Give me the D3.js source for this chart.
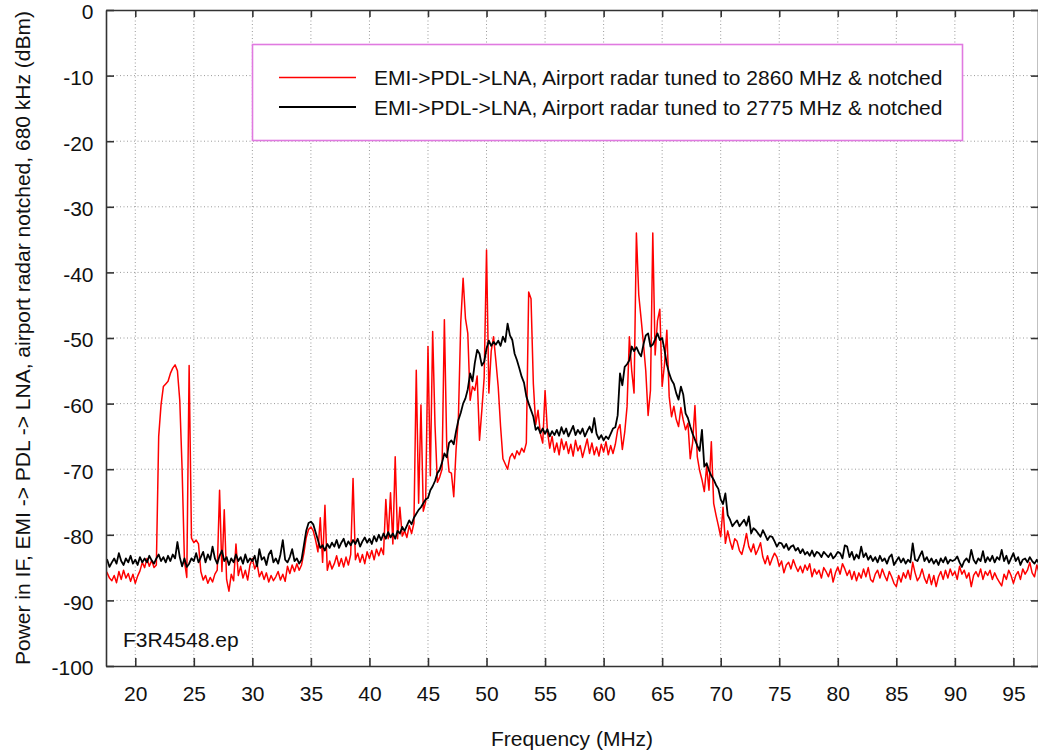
<!DOCTYPE html>
<html>
<head>
<meta charset="utf-8">
<script src="https://cdn.jsdelivr.net/npm/d3@7"></script>
<style>
  html, body { margin: 0; padding: 0; background: #fff; }
  svg { display: block; font-family: "Liberation Sans", Arial, Helvetica, sans-serif; }
</style>
</head>
<body>
<svg id="chart" width="1038" height="754"></svg>
<script>
// Sweep grid of the IF spectrum (MHz)
const freqStartMHz = 17.4;
const freqStepMHz = 0.2;

// Radar tuned to 2860 MHz & notched (dBm), one row per MHz
const red2860 = [
  -85.2, -85.8, -86.6,
  -87.0, -86.2, -87.3, -85.6, -86.8,
  -85.4, -86.6, -85.9, -87.1, -86.0,
  -87.4, -86.3, -85.5, -84.2, -85.0,
  -83.6, -84.8, -83.9, -85.0, -84.6,
  -65.0, -60.2, -57.4, -57.0, -56.6,
  -55.4, -54.6, -54.1, -55.0, -59.5,
  -70.0, -84.0, -86.5, -54.2, -80.5,
  -81.2, -80.8, -81.4, -85.6, -86.9,
  -86.2, -87.4, -86.5, -87.2, -86.0,
  -85.4, -73.2, -85.6, -76.2, -86.8,
  -88.6, -86.0, -87.0, -81.4, -86.2,
  -84.8, -86.6, -85.4, -86.9, -84.6,
  -83.6, -85.2, -84.4, -86.4, -85.6,
  -86.8, -85.8, -87.2, -86.2, -87.0,
  -86.4, -85.6, -86.9, -86.0, -87.1,
  -84.8, -85.9, -84.6, -85.6, -84.4,
  -85.4, -84.6, -82.8, -80.4, -79.2,
  -78.8, -79.4, -80.8, -82.6, -77.4,
  -84.2, -75.5, -85.4, -84.0, -85.2,
  -84.4, -83.2, -84.8, -83.6, -84.9,
  -83.4, -84.6, -83.0, -71.4, -83.8,
  -82.8, -84.2, -83.0, -84.4, -82.6,
  -83.6, -82.4, -83.8, -82.2, -83.2,
  -82.0, -83.0, -74.6, -80.6, -73.6,
  -81.4, -68.1, -80.6, -75.8, -80.2,
  -79.4, -80.4, -78.6, -79.8, -78.2,
  -54.9, -75.2, -60.2, -76.4, -75.0,
  -51.3, -71.0, -49.0, -63.3, -72.0,
  -71.2, -70.0, -47.2, -66.4, -70.4,
  -70.6, -74.2, -67.0, -62.0, -47.6,
  -40.9, -47.0, -49.3, -59.5, -57.4,
  -58.0, -55.8, -65.6, -61.0, -56.0,
  -36.6, -58.4, -52.0, -49.8, -53.5,
  -57.5, -63.5, -68.4, -69.2, -70.0,
  -68.2, -67.6, -68.4, -67.2, -67.8,
  -66.8, -67.4, -66.0, -43.0, -44.0,
  -57.0, -63.2, -61.0, -64.6, -66.0,
  -58.0, -64.2, -66.8, -65.0, -67.4,
  -66.0, -67.8, -65.4, -67.0, -65.8,
  -67.6, -66.2, -68.0, -65.6, -67.2,
  -66.4, -68.2, -66.8, -65.4, -67.6,
  -66.0, -67.8, -66.6, -68.0, -66.2,
  -67.4, -65.8, -67.8, -66.4, -67.6,
  -66.2, -64.0, -63.2, -67.0, -64.4,
  -60.5, -49.8, -55.0, -58.4, -34.0,
  -43.4, -47.0, -50.8, -55.0, -61.8,
  -58.0, -34.0, -52.6, -47.4, -45.6,
  -57.4, -54.0, -48.8, -58.9, -62.0,
  -60.4, -62.4, -63.5, -60.6, -62.5,
  -64.0, -63.0, -68.4, -66.0, -60.3,
  -68.1, -70.2, -71.6, -73.4, -69.6,
  -73.2, -65.8, -75.2, -77.0, -78.6,
  -80.3, -75.8, -81.3, -79.4, -81.0,
  -82.2, -80.6, -81.0, -82.4, -83.0,
  -81.6, -79.8, -81.8, -82.6, -81.4,
  -83.0, -82.2, -81.2, -83.4, -84.4,
  -83.2, -84.6, -83.6, -82.8, -83.4,
  -84.8, -84.0, -85.8, -84.6, -84.2,
  -85.2, -83.8, -84.8, -85.6, -84.8,
  -85.8, -84.6, -85.4, -84.4, -86.4,
  -85.2, -86.0, -85.4, -86.6, -85.0,
  -85.6, -86.4, -85.2, -87.2, -85.8,
  -84.9, -86.0, -84.4, -85.2, -86.2,
  -85.4, -86.8, -85.6, -87.0, -85.8,
  -86.6, -85.2, -86.4, -85.0, -86.8,
  -87.2, -86.0, -85.4, -86.6, -85.2,
  -86.2, -87.0, -85.6, -86.4, -87.4,
  -87.9, -86.2, -87.2, -85.8, -86.6,
  -85.4, -86.8, -84.2, -85.8, -87.0,
  -86.4, -85.2, -86.6, -87.4, -86.0,
  -87.6, -86.2, -87.9, -86.4, -85.6,
  -86.8, -85.4, -86.6, -85.2, -86.2,
  -85.6, -86.8, -84.8, -86.0, -85.4,
  -86.6, -85.8, -87.9, -86.2, -85.6,
  -86.4, -85.2, -86.8, -85.6, -86.2,
  -85.4, -86.8, -85.8, -86.6, -87.2,
  -87.8, -86.0, -86.8, -85.4, -86.2,
  -87.4, -86.2, -85.6, -86.8, -85.2,
  -86.0, -85.4, -84.2, -85.8, -86.4,
  -84.6, -85.8
];

// Radar tuned to 2775 MHz & notched (dBm), one row per MHz
const black2775 = [
  -84.6, -83.8, -84.9,
  -84.2, -83.6, -84.4, -82.8, -84.0,
  -84.6, -83.6, -84.2, -83.2, -84.4,
  -83.8, -84.6, -83.4, -84.2, -83.6,
  -84.2, -83.2, -83.9, -84.4, -83.6,
  -83.0, -84.0, -83.4, -84.2, -83.2,
  -84.0, -83.0, -83.6, -81.1, -83.4,
  -84.8, -83.6, -84.9, -84.4, -83.6,
  -84.0, -82.8, -84.2, -83.4, -82.6,
  -84.2, -83.0, -83.8, -81.8, -83.6,
  -84.4, -83.2, -82.4, -84.0, -83.4,
  -84.6, -83.6, -84.2, -83.0, -84.0,
  -83.4, -84.4, -83.0, -84.2, -83.6,
  -84.0, -83.2, -84.8, -82.2, -83.8,
  -83.4, -84.6, -83.0, -82.4, -84.2,
  -83.6, -84.4, -83.0, -80.8, -83.8,
  -84.2, -83.4, -82.2, -84.0, -83.6,
  -84.4, -83.8, -81.6, -79.4, -78.2,
  -78.0, -78.4, -79.6, -80.8, -82.0,
  -81.6, -82.4, -81.4, -82.0, -81.2,
  -81.8, -80.8, -82.0, -81.2, -80.6,
  -81.8, -81.0, -81.6, -80.8, -81.4,
  -80.6, -81.8, -81.0, -80.4, -81.2,
  -80.6, -81.4, -80.2, -81.0, -80.0,
  -80.8, -79.8, -80.6, -79.6, -80.4,
  -79.8, -80.6, -79.4, -79.8, -78.8,
  -79.4, -78.6, -77.8, -78.4, -77.4,
  -76.8, -76.2, -75.8, -75.2, -74.6,
  -74.4, -73.2, -72.6, -71.8, -70.6,
  -70.1, -69.0, -67.6, -68.2, -66.0,
  -65.6, -66.2, -64.2, -62.5, -61.4,
  -60.0, -59.2, -57.8, -55.4, -56.6,
  -53.8, -51.8, -52.4, -54.2, -53.6,
  -51.6, -50.4, -51.2, -50.6, -51.0,
  -50.4, -51.2, -49.8, -50.6, -47.8,
  -49.6, -50.3, -52.4, -53.4, -54.6,
  -55.9, -56.8, -58.9, -60.0, -61.0,
  -62.0, -64.0, -63.6, -64.5, -63.8,
  -64.6, -63.9, -65.0, -64.2, -64.8,
  -64.0, -64.9, -63.6, -64.6, -63.8,
  -65.0, -64.2, -63.4, -64.8, -64.0,
  -64.6, -63.8, -65.0, -64.2, -63.5,
  -64.4, -62.2, -64.6, -65.4, -64.8,
  -65.6, -65.0, -65.4, -64.6, -63.8,
  -63.6, -61.8, -55.4, -57.2, -54.4,
  -54.0, -53.4, -51.3, -52.0, -51.4,
  -52.2, -52.8, -51.0, -49.6, -49.3,
  -51.3, -51.0, -50.2, -49.3, -50.3,
  -50.0, -51.8, -54.0, -55.4, -56.4,
  -57.0, -58.4, -59.4, -57.4, -58.6,
  -61.5, -62.2, -63.5, -64.6, -65.5,
  -66.4, -67.2, -64.0, -69.6, -69.1,
  -70.2, -71.0, -71.6, -72.4, -73.0,
  -74.6, -75.3, -73.7, -77.0, -77.7,
  -78.7, -78.2, -77.8, -78.7, -78.2,
  -77.7, -78.6, -77.2, -79.8, -79.0,
  -79.3, -79.8, -80.3, -79.3, -80.0,
  -80.8, -80.2, -80.3, -81.0, -81.8,
  -81.2, -81.3, -82.0, -81.4, -82.3,
  -81.8, -81.6, -82.4, -82.0, -82.8,
  -82.2, -83.0, -82.6, -83.2, -82.4,
  -83.3, -82.6, -82.8, -83.4, -82.6,
  -83.0, -83.4, -82.8, -83.6, -83.2,
  -82.6, -82.8, -83.6, -81.6, -81.8,
  -83.4, -82.6, -83.8, -83.0, -83.6,
  -81.8, -83.4, -82.8, -83.8, -83.2,
  -84.0, -83.4, -84.2, -83.2, -84.0,
  -83.6, -84.4, -83.4, -83.0, -84.6,
  -84.0, -83.4, -84.2, -83.6, -84.4,
  -83.8, -84.2, -81.3, -83.8, -84.0,
  -83.2, -82.5, -84.0, -83.4, -84.2,
  -83.6, -84.4, -83.8, -84.6, -83.6,
  -84.2, -83.4, -84.4, -83.8, -84.0,
  -83.8, -83.3, -84.2, -84.9, -84.0,
  -83.6, -84.2, -82.3, -83.8, -84.4,
  -83.6, -84.0, -82.5, -84.2, -83.4,
  -84.0, -83.2, -84.2, -83.4, -83.8,
  -82.3, -84.0, -83.2, -84.4, -83.6,
  -82.8, -84.0, -83.4, -84.6, -83.8,
  -83.6, -84.2, -83.4, -84.0, -84.4,
  -83.8, -84.4
];

const xTicks = [20, 25, 30, 35, 40, 45, 50, 55, 60, 65, 70, 75, 80, 85, 90, 95];
const yTicks = [0, -10, -20, -30, -40, -50, -60, -70, -80, -90, -100];
const seriesLabels = [
  "EMI->PDL->LNA, Airport radar tuned to 2860 MHz & notched",
  "EMI->PDL->LNA, Airport radar tuned to 2775 MHz & notched"
];
const seriesColors = ["#ff0000", "#000000"];
const xTitle = "Frequency (MHz)";
const yTitle = "Power in IF, EMI -> PDL -> LNA, airport radar notched, 680 kHz (dBm)";
const fileTag = "F3R4548.ep";

(function draw() {
  const W = 1038, H = 754;
  const pL = 106, pR = 1038, pT = 10, pB = 666;
  const fontSize = 21;
  const fontFamily = '"Liberation Sans", Arial, Helvetica, sans-serif';
  const plainNumber = d => String(d);   // ASCII hyphen for negatives

  const svg = d3.select("#chart");
  svg.append("rect").attr("width", W).attr("height", H).attr("fill", "#fff");

  const x = d3.scaleLinear().domain([17.5, 97.1]).range([pL, pR]);
  const y = d3.scaleLinear().domain([-100, 0]).range([pB, pT]);

  // dotted grid
  const grid = svg.append("g").attr("stroke", "#9a9a9a").attr("stroke-width", 1)
    .attr("stroke-dasharray", "1,2.5");
  grid.selectAll("line.gx").data(xTicks).join("line").attr("class", "gx")
    .attr("x1", d => x(d)).attr("x2", d => x(d)).attr("y1", pT).attr("y2", pB);
  grid.selectAll("line.gy").data(yTicks.filter(d => d > -100 && d < 0)).join("line").attr("class", "gy")
    .attr("x1", pL).attr("x2", pR).attr("y1", d => y(d)).attr("y2", d => y(d));

  // spectrum traces
  const series = [red2860, black2775].map((vals, s) => ({
    color: seriesColors[s],
    width: s === 0 ? 1.5 : 1.8,
    points: vals.map((v, i) => ({ f: freqStartMHz + i * freqStepMHz, v }))
  }));

  svg.append("clipPath").attr("id", "plotClip").append("rect")
    .attr("x", pL).attr("y", pT).attr("width", pR - pL).attr("height", pB - pT);

  const line = d3.line().x(d => x(d.f)).y(d => y(d.v));
  svg.append("g").attr("clip-path", "url(#plotClip)")
    .selectAll("path").data(series).join("path")
    .attr("d", d => line(d.points))
    .attr("fill", "none")
    .attr("stroke", d => d.color)
    .attr("stroke-width", d => d.width)
    .attr("stroke-linejoin", "round");

  // border axes, ticks pointing inward on all four sides
  const axisColor = "#333";
  const styleAxis = g => {
    g.select(".domain").attr("stroke", axisColor).attr("stroke-width", 1.6);
    g.selectAll(".tick line").attr("stroke", axisColor).attr("stroke-width", 1.6);
    g.selectAll("text").attr("fill", "#111").style("font-size", fontSize + "px")
      .style("font-family", fontFamily);
  };

  svg.append("g").attr("transform", `translate(0,${pB})`)
    .call(d3.axisBottom(x).tickValues(xTicks).tickSize(-8).tickSizeOuter(0).tickPadding(20).tickFormat(plainNumber))
    .call(styleAxis);
  svg.append("g").attr("transform", `translate(0,${pT})`)
    .call(d3.axisTop(x).tickValues(xTicks).tickSize(-7).tickSizeOuter(0).tickFormat(""))
    .call(styleAxis);
  svg.append("g").attr("transform", `translate(${pL},0)`)
    .call(d3.axisLeft(y).tickValues(yTicks).tickSize(-8).tickSizeOuter(0).tickPadding(12.5).tickFormat(plainNumber))
    .call(styleAxis)
    .call(g => g.selectAll("text").attr("dy", "0.42em"));
  svg.append("g").attr("transform", `translate(${pR},0)`)
    .call(d3.axisRight(y).tickValues(yTicks).tickSize(-7).tickSizeOuter(0).tickFormat(""))
    .call(styleAxis);

  // legend
  const lg = svg.append("g").style("font-family", fontFamily);
  lg.append("rect").attr("x", 252.5).attr("y", 44.5).attr("width", 710).attr("height", 96)
    .attr("fill", "#fff").attr("stroke", "#e07ae0").attr("stroke-width", 1.6);
  seriesLabels.forEach((label, i) => {
    const cy = 77.5 + i * 29.5;
    lg.append("line").attr("x1", 279).attr("x2", 356).attr("y1", cy).attr("y2", cy)
      .attr("stroke", seriesColors[i]).attr("stroke-width", i === 0 ? 1.5 : 1.8);
    lg.append("text").attr("x", 374).attr("y", cy).attr("dy", "0.36em")
      .attr("fill", "#111").style("font-size", fontSize + "px").text(label);
  });

  // titles and file tag
  svg.append("text").attr("x", (pL + pR) / 2).attr("y", 746)
    .attr("text-anchor", "middle").attr("fill", "#111").style("font-size", fontSize + "px").text(xTitle);
  svg.append("text").attr("transform", `translate(30,${(pT + pB) / 2}) rotate(-90)`)
    .attr("text-anchor", "middle").attr("fill", "#111").style("font-size", fontSize + "px").text(yTitle);
  svg.append("text").attr("x", 123).attr("y", 647)
    .attr("fill", "#111").style("font-size", fontSize + "px").text(fileTag);
})();
</script>
</body>
</html>
